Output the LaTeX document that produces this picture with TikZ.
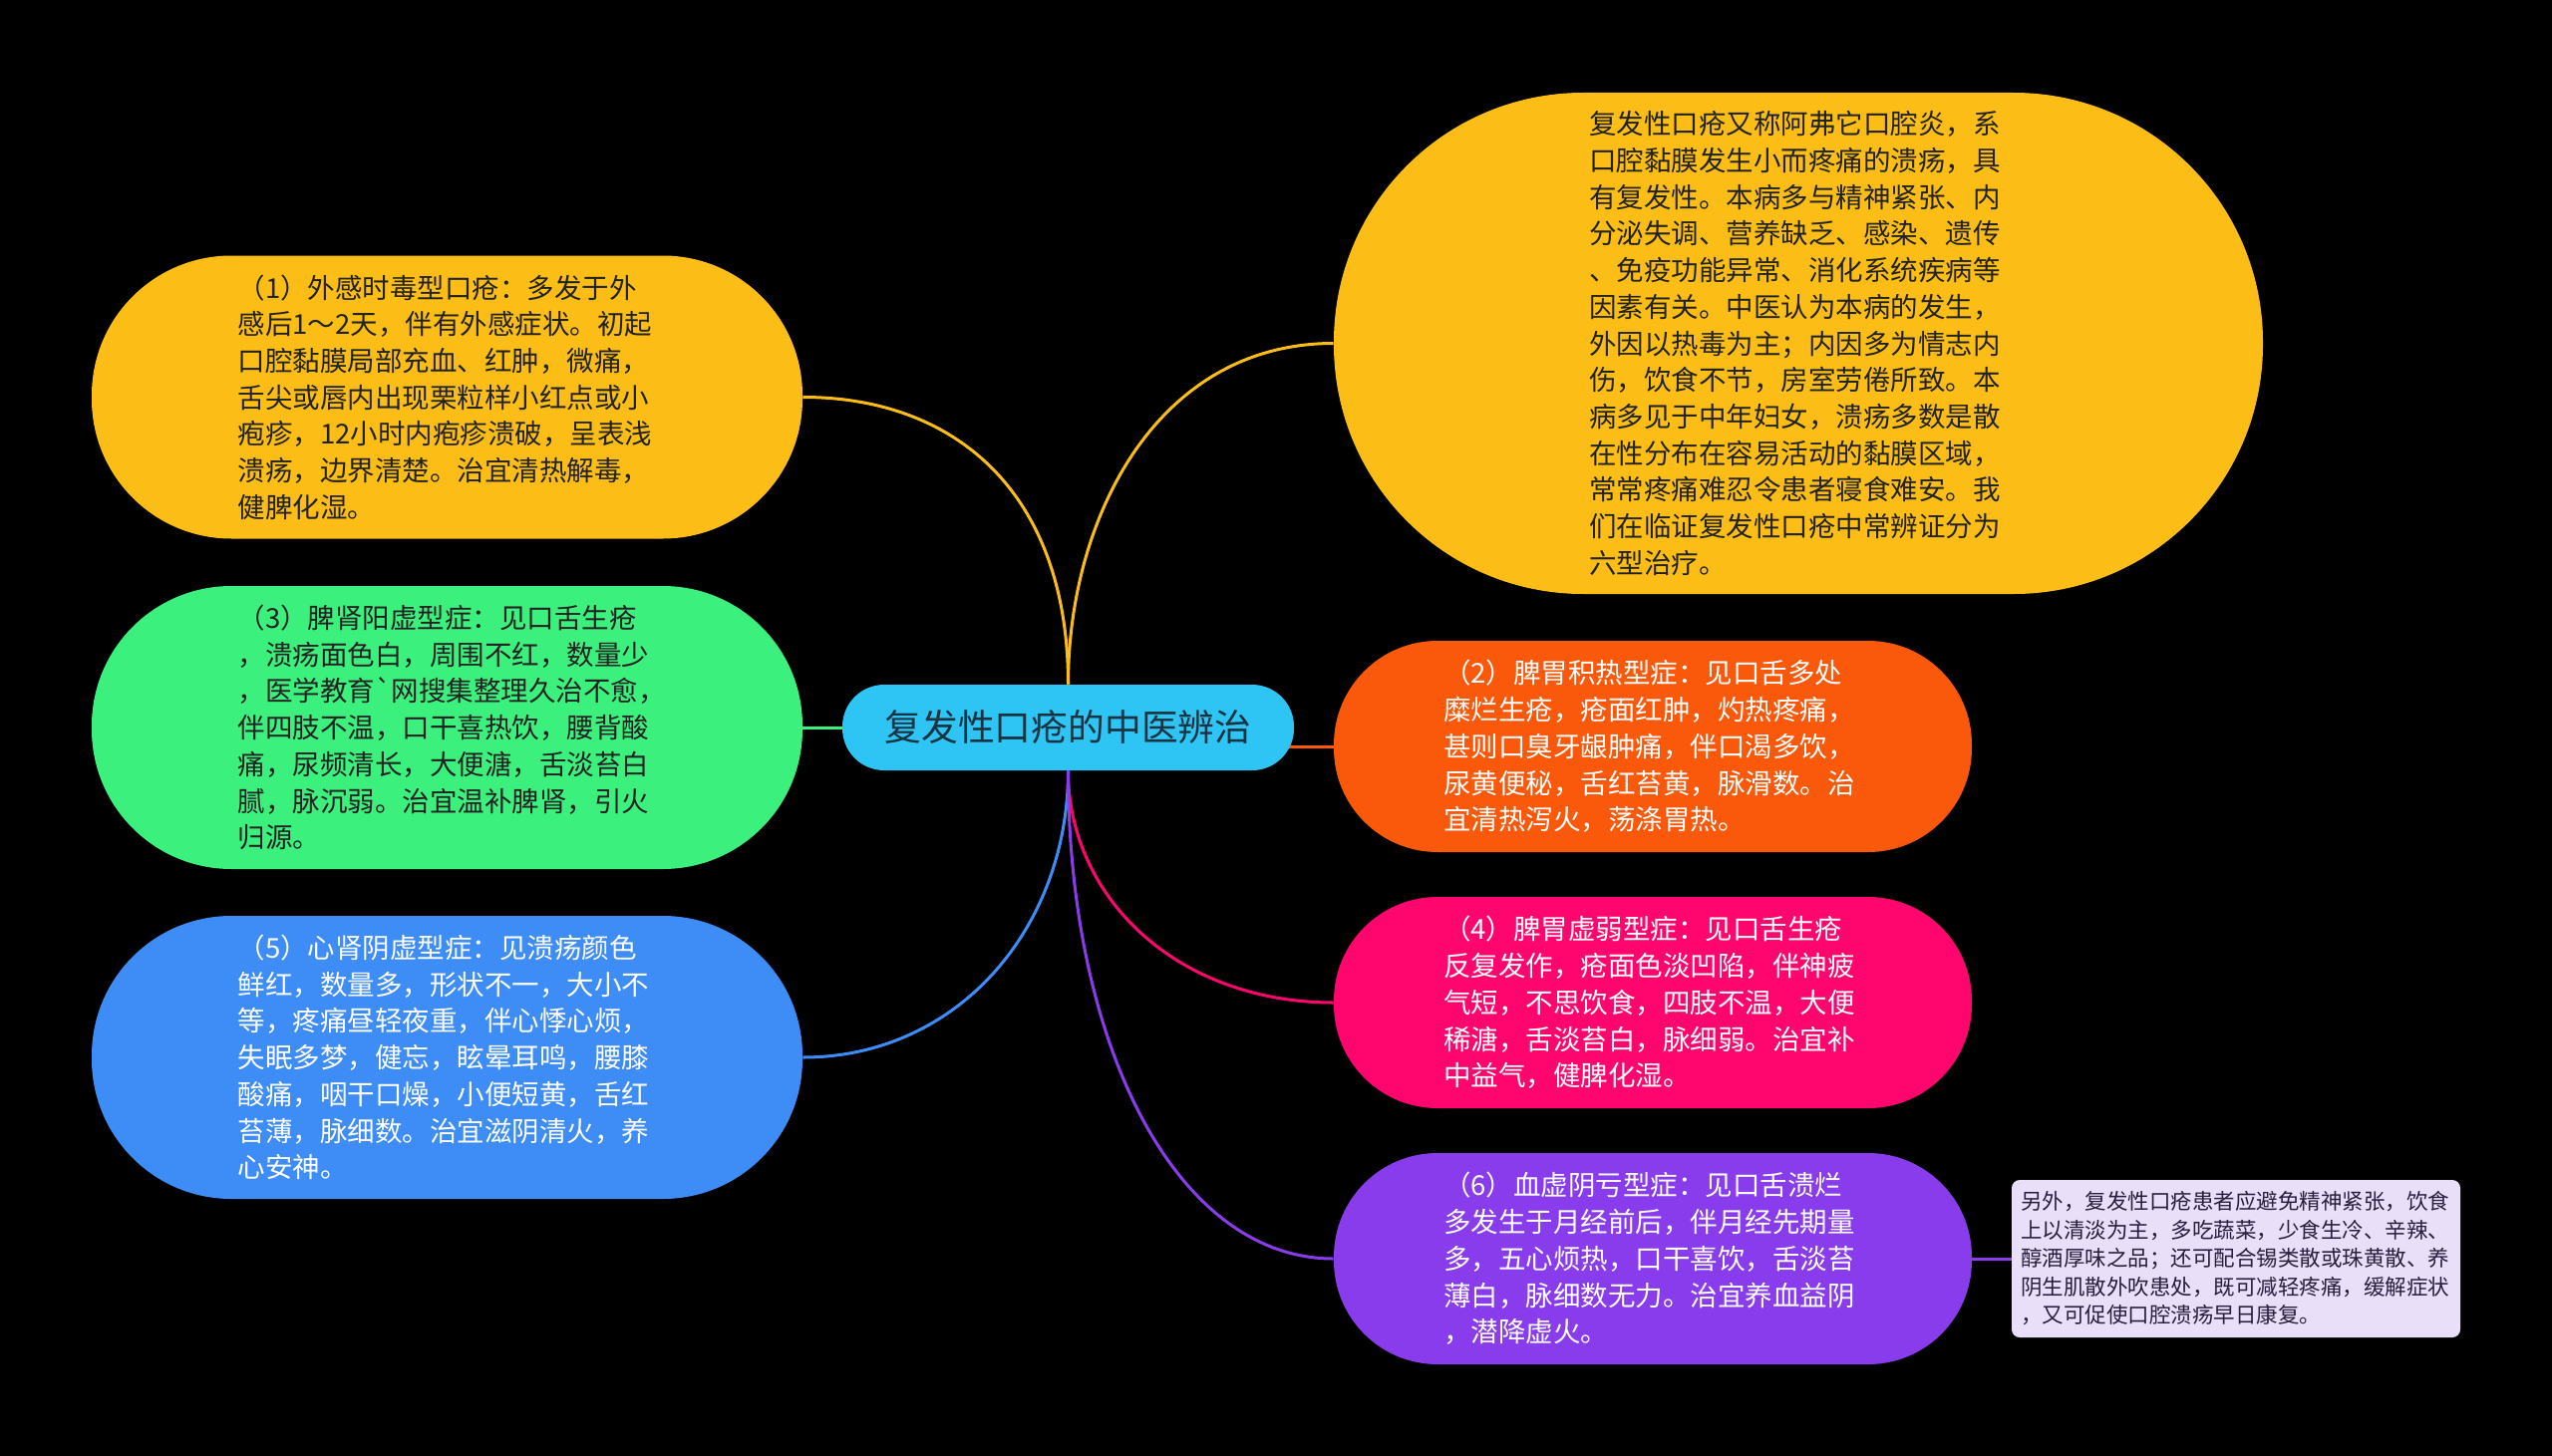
\documentclass[tikz,border=0pt]{standalone}
\usepackage{fontspec}
\setmainfont{Noto Sans CJK SC}
\definecolor{cyel}{RGB}{252,190,22}
\definecolor{cgrn}{RGB}{60,240,125}
\definecolor{cblu}{RGB}{62,140,246}
\definecolor{cora}{RGB}{250,88,10}
\definecolor{cpnk}{RGB}{254,6,110}
\definecolor{cpur}{RGB}{136,60,235}
\definecolor{ccen}{RGB}{46,196,244}
\definecolor{cnote}{RGB}{233,223,248}
\definecolor{cdark}{RGB}{34,34,34}
\definecolor{ccentxt}{RGB}{24,52,66}
\definecolor{cnotetxt}{RGB}{40,30,62}
\pgfdeclarelayer{bg}
\pgfsetlayers{bg,main}
\begin{document}
\begin{tikzpicture}[x=0.5pt,y=-0.5pt,
  box/.style={rectangle, inner sep=0pt, align=left, text width=210pt,
    font=\fontsize{13.75pt}{18.35pt}\selectfont},
  leftbox/.style={box, minimum width=356.5pt, minimum height=142pt, rounded corners=70pt},
  rightbox/.style={box, minimum width=320pt, minimum height=106pt, rounded corners=52pt, text=white},
  link/.style={line width=1.5pt}]
\begin{pgfonlayer}{bg}
\fill[black] (0,0) rectangle (2560,1461);
\end{pgfonlayer}
\useasboundingbox (0,0) rectangle (2560,1461);

\node[rectangle, fill=ccen, text=ccentxt, minimum width=226.5pt, minimum height=43pt,
  rounded corners=21pt, inner sep=0pt, font=\fontsize{18.4pt}{22pt}\selectfont] (c) at (1071.5,730) {复发性口疮的中医辨治};

\node[box, fill=cyel, text=cdark, minimum width=466pt, minimum height=251.5pt, rounded corners=125pt] (n0) at (1804,344.5)
{复发性口疮又称阿弗它口腔炎，系\\口腔黏膜发生小而疼痛的溃疡，具\\有复发性。本病多与精神紧张、内\\分泌失调、营养缺乏、感染、遗传\\、免疫功能异常、消化系统疾病等\\因素有关。中医认为本病的发生，\\外因以热毒为主；内因多为情志内\\伤，饮食不节，房室劳倦所致。本\\病多见于中年妇女，溃疡多数是散\\在性分布在容易活动的黏膜区域，\\常常疼痛难忍令患者寝食难安。我\\们在临证复发性口疮中常辨证分为\\六型治疗。};

\node[leftbox, fill=cyel, text=cdark] (n1) at (448.5,398.5)
{（1）外感时毒型口疮：多发于外\\感后1～2天，伴有外感症状。初起\\口腔黏膜局部充血、红肿，微痛，\\舌尖或唇内出现栗粒样小红点或小\\疱疹，12小时内疱疹溃破，呈表浅\\溃疡，边界清楚。治宜清热解毒，\\健脾化湿。};

\node[leftbox, fill=cgrn, text=cdark] (n3) at (448.5,730)
{（3）脾肾阳虚型症：见口舌生疮\\，溃疡面色白，周围不红，数量少\\，医学教育\textasciigrave 网搜集整理久治不愈，\\伴四肢不温，口干喜热饮，腰背酸\\痛，尿频清长，大便溏，舌淡苔白\\腻，脉沉弱。治宜温补脾肾，引火\\归源。};

\node[leftbox, fill=cblu, text=white] (n5) at (448.5,1061)
{（5）心肾阴虚型症：见溃疡颜色\\鲜红，数量多，形状不一，大小不\\等，疼痛昼轻夜重，伴心悸心烦，\\失眠多梦，健忘，眩晕耳鸣，腰膝\\酸痛，咽干口燥，小便短黄，舌红\\苔薄，脉细数。治宜滋阴清火，养\\心安神。};

\node[rightbox, fill=cora] (n2) at (1658,749)
{（2）脾胃积热型症：见口舌多处\\糜烂生疮，疮面红肿，灼热疼痛，\\甚则口臭牙龈肿痛，伴口渴多饮，\\尿黄便秘，舌红苔黄，脉滑数。治\\宜清热泻火，荡涤胃热。};

\node[rightbox, fill=cpnk] (n4) at (1658,1006)
{（4）脾胃虚弱型症：见口舌生疮\\反复发作，疮面色淡凹陷，伴神疲\\气短，不思饮食，四肢不温，大便\\稀溏，舌淡苔白，脉细弱。治宜补\\中益气，健脾化湿。};

\node[rightbox, fill=cpur] (n6) at (1658,1263)
{（6）血虚阴亏型症：见口舌溃烂\\多发生于月经前后，伴月经先期量\\多，五心烦热，口干喜饮，舌淡苔\\薄白，脉细数无力。治宜养血益阴\\，潜降虚火。};

\node[rectangle, inner sep=0pt, align=left, text width=216pt, fill=cnote, text=cnotetxt,
  minimum width=225pt, minimum height=79pt, rounded corners=4pt,
  font=\fontsize{10.75pt}{14.25pt}\selectfont] (note) at (2243,1263)
{另外，复发性口疮患者应避免精神紧张，饮食\\上以清淡为主，多吃蔬菜，少食生冷、辛辣、\\醇酒厚味之品；还可配合锡类散或珠黄散、养\\阴生肌散外吹患处，既可减轻疼痛，缓解症状\\，又可促使口腔溃疡早日康复。};

\begin{pgfonlayer}{bg}
\draw[link, cyel] (c.north) .. controls +(0,-190) and +(155,0) .. (n1.east);
\draw[link, cyel] (c.north) .. controls +(0,-167) and +(-177,0) .. (n0.west);
\draw[link, cgrn] (n3.east) -- (c.center);
\draw[link, cora] (c.center |- n2.west) -- (n2.west);
\draw[link, cpnk] (c.south) .. controls +(0,127) and +(-157,0) .. (n4.west);
\draw[link, cblu] (c.south) .. controls +(0,158) and +(155,0) .. (n5.east);
\draw[link, cpur] (c.south) .. controls +(0,277) and +(-157,0) .. (n6.west);
\draw[link, cpur] (n6.east) -- (note.west);
\end{pgfonlayer}
\end{tikzpicture}
\end{document}
